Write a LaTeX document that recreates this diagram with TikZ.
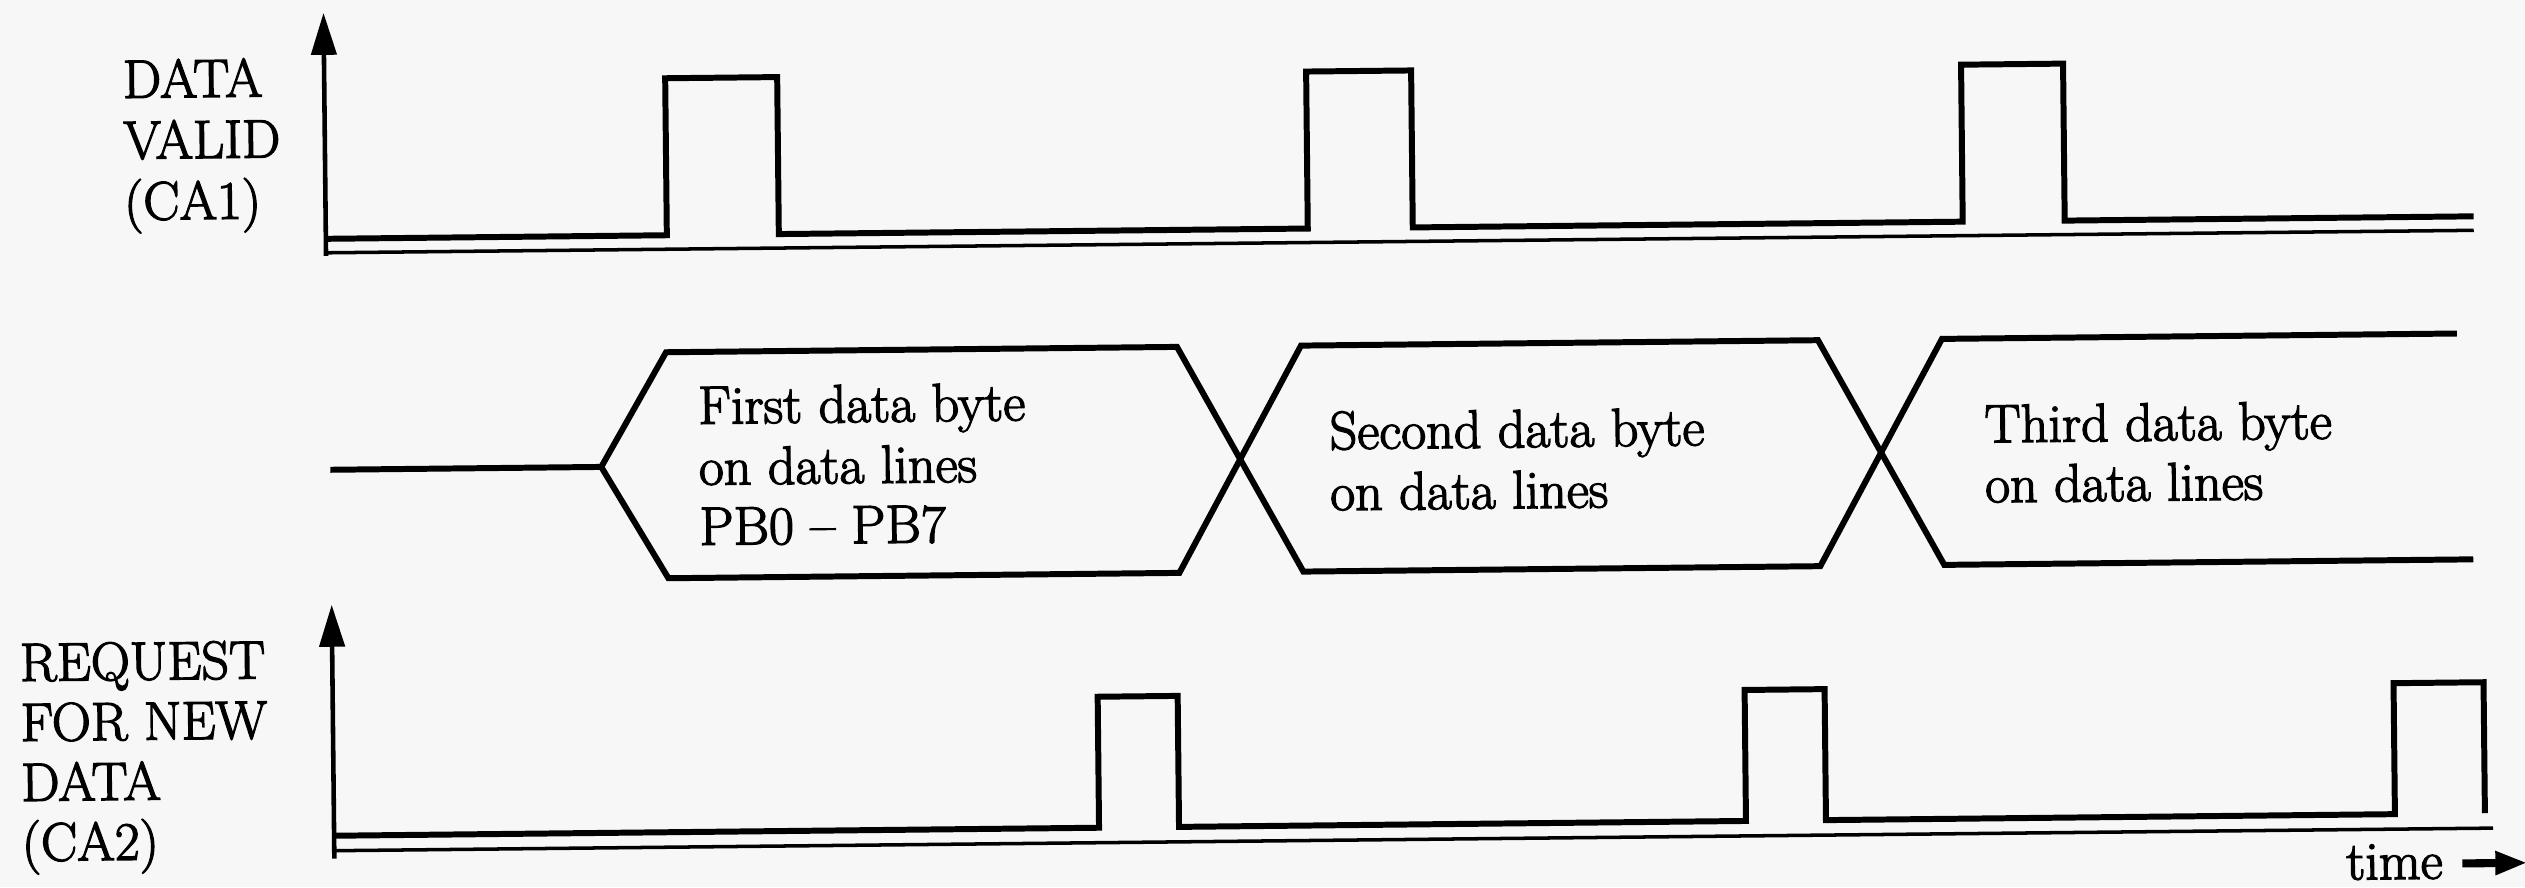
\documentclass[tikz,border=0pt]{standalone}
\usepackage{fontspec}
\newfontfamily\lbfont{Latin Modern Roman}[Ligatures=TeX,FakeBold=2.4]
\usetikzlibrary{arrows.meta}
\begin{document}
\begin{tikzpicture}[x=0.01cm,y=-0.01cm,
  sig/.style={line width=1.7pt, line join=miter, line cap=butt},
  basel/.style={line width=1.0pt},
  yaxis/.style={line width=1.3pt, -{Triangle[length=0.42cm,width=0.25cm]}},
  lbl/.style={anchor=base west, inner sep=0pt, font=\lbfont\fontsize{15.4}{17}\selectfont},
]
\fill[black!3] (0,0) rectangle (2525,887);
\useasboundingbox (0,0) rectangle (2525,887);
\begin{scope}[rotate around={0.6:(1262,443)}, transform shape]
% ---------- DATA VALID (CA1)
\coordinate (ta0) at (328,246);
\coordinate (ta1) at (328,3);
\coordinate (tb0) at (328,243);
\coordinate (tb1) at (2476,243);
\draw[yaxis] (ta0) -- (ta1);
\draw[basel] (tb0) -- (tb1);
\draw[sig] (328,229) -- (669,229) -- (669,72) -- (781,72) -- (781,229)
  -- (1310,229) -- (1310,72) -- (1415,72) -- (1415,229)
  -- (1965,229) -- (1965,72) -- (2067,72) -- (2067,229) -- (2476,229);
\node[lbl] (dv1) at (126,86) {DATA};
\node[lbl] (dv2) at (126,147) {VALID};
\node[lbl] (dv3) at (126,208) {(CA1)};
% ---------- data bus
\draw[sig] (330,460) -- (601,460) -- (667,346) -- (1178,346) -- (1302,572)
  -- (1819,572) -- (1943,346) -- (2458,346);
\draw[sig] (601,460) -- (667,572) -- (1178,572) -- (1302,346)
  -- (1819,346) -- (1943,572) -- (2472,572);
\node[lbl] (f1) at (698,418) {First data byte};
\node[lbl] (f2) at (698,479) {on data lines};
\node[lbl] (f3) at (698,539) {PB0 \textendash{} PB7};
\node[lbl] (s1) at (1329,450) {Second data byte};
\node[lbl] (s2) at (1329,511) {on data lines};
\node[lbl] (t1) at (1984,450) {Third data byte};
\node[lbl] (t2) at (1984,510) {on data lines};
% ---------- REQUEST FOR NEW DATA (CA2)
\coordinate (ba0) at (330,849);
\coordinate (ba1) at (330,595);
\coordinate (bb0) at (330,841);
\coordinate (bb1) at (2489,841);
\draw[yaxis] (ba0) -- (ba1);
\draw[basel] (bb0) -- (bb1);
\draw[sig] (330,826) -- (1095,826) -- (1095,695) -- (1175,695) -- (1175,826)
  -- (1742,826) -- (1742,695) -- (1822,695) -- (1822,826)
  -- (2391,826) -- (2391,695) -- (2481,695) -- (2481,826);
\node[lbl] (r1) at (17,668) {REQUEST};
\node[lbl] (r2) at (17,728) {FOR NEW};
\node[lbl] (r3) at (17,788) {DATA};
\node[lbl] (r4) at (17,848) {(CA2)};
% ---------- time arrow
\node[lbl] (time) at (2341,891) {time};
\coordinate (tm0) at (2458,876);
\coordinate (tm1) at (2523,876);
\draw[line width=2.3pt, -{Triangle[length=0.32cm,width=0.22cm]}] (tm0) -- (tm1);
\end{scope}
\end{tikzpicture}
\end{document}
